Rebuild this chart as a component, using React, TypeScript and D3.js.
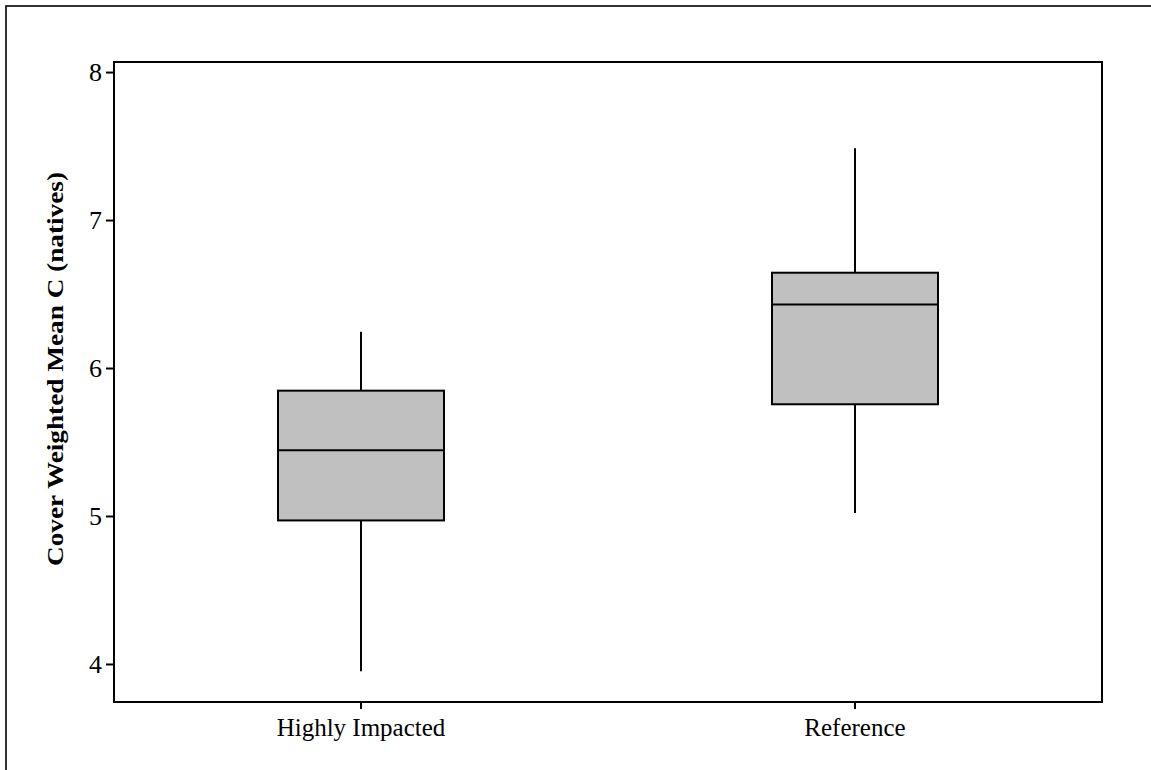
import React, { useEffect, useRef } from 'react';
import * as d3 from 'd3';

// groups on the x axis
const categories = ['Highly Impacted', 'Reference'];
// box plot summaries
const whiskerLow = [3.95, 5.02];
const quartile1 = [4.97, 5.755];
const medians = [5.445, 6.43];
const quartile3 = [5.847, 6.644];
const whiskerHigh = [6.245, 7.485];
const yTicks = [4, 5, 6, 7, 8];

const width = 1151;
const height = 770;
const margins = { top: 62, right: 49, bottom: 68, left: 114 };
const yAxisTitle = 'Cover Weighted Mean C (natives)';

const font = '"Liberation Serif", "Times New Roman", serif';

function BoxPlot() {
  const svgRef = useRef<SVGSVGElement | null>(null);

  useEffect(() => {
    const svg = d3.select(svgRef.current);
    svg.selectAll('*').remove();

    const plotW = width - margins.left - margins.right;
    const plotH = height - margins.top - margins.bottom;

    const x = d3.scaleBand<string>().domain(categories).range([0, plotW]);
    const y = d3.scaleLinear().domain([3.743, 8.068]).range([plotH, 0]);

    // outer frame of the figure
    svg.append('rect')
      .attr('x', 6).attr('y', 6)
      .attr('width', 1200).attr('height', 800)
      .attr('fill', 'none')
      .attr('stroke', '#000')
      .attr('stroke-width', 1.6);

    const g = svg.append('g').attr('transform', `translate(${margins.left},${margins.top})`);

    // y axis
    const yAxis = g.append('g')
      .call(d3.axisLeft(y).tickValues(yTicks).tickSize(8).tickPadding(4).tickFormat(d3.format('d')));
    yAxis.select('.domain').remove();
    yAxis.selectAll('line').attr('stroke', '#000').attr('stroke-width', 2);
    yAxis.selectAll('text')
      .attr('font-family', font)
      .attr('font-size', 26)
      .attr('fill', '#000');

    // x axis
    const xAxis = g.append('g')
      .attr('transform', `translate(0,${plotH})`)
      .call(d3.axisBottom(x).tickSize(7).tickPadding(9));
    xAxis.select('.domain').remove();
    xAxis.selectAll('line').attr('stroke', '#000').attr('stroke-width', 2);
    xAxis.selectAll('text')
      .attr('font-family', font)
      .attr('font-size', 25)
      .attr('fill', '#000');

    // boxes
    const boxW = x.bandwidth() * 0.336;
    const rows = categories.map((c, i) => ({
      c,
      lo: whiskerLow[i],
      q1: quartile1[i],
      med: medians[i],
      q3: quartile3[i],
      hi: whiskerHigh[i],
    }));

    const boxes = g.selectAll('g.box')
      .data(rows)
      .enter()
      .append('g')
      .classed('box', true)
      .attr('transform', d => `translate(${(x(d.c) as number) + x.bandwidth() / 2},0)`);

    boxes.append('line')
      .attr('x1', 0).attr('x2', 0)
      .attr('y1', d => y(d.hi)).attr('y2', d => y(d.q3))
      .attr('stroke', '#000').attr('stroke-width', 2);
    boxes.append('line')
      .attr('x1', 0).attr('x2', 0)
      .attr('y1', d => y(d.q1)).attr('y2', d => y(d.lo))
      .attr('stroke', '#000').attr('stroke-width', 2);
    boxes.append('rect')
      .attr('x', -boxW / 2)
      .attr('width', boxW)
      .attr('y', d => y(d.q3))
      .attr('height', d => y(d.q1) - y(d.q3))
      .attr('fill', '#c0c0c0')
      .attr('stroke', '#000')
      .attr('stroke-width', 2);
    boxes.append('line')
      .attr('x1', -boxW / 2).attr('x2', boxW / 2)
      .attr('y1', d => y(d.med)).attr('y2', d => y(d.med))
      .attr('stroke', '#000').attr('stroke-width', 2);

    // plot frame
    g.append('rect')
      .attr('width', plotW)
      .attr('height', plotH)
      .attr('fill', 'none')
      .attr('stroke', '#000')
      .attr('stroke-width', 2);

    // y axis title
    svg.append('text')
      .attr('transform', `translate(63,${(172 + 566) / 2}) rotate(-90)`)
      .attr('text-anchor', 'middle')
      .attr('font-family', font)
      .attr('font-size', 24)
      .attr('font-weight', 'bold')
      .attr('textLength', 394)
      .attr('lengthAdjust', 'spacingAndGlyphs')
      .attr('fill', '#000')
      .text(yAxisTitle);
  }, []);

  return (
    <svg
      ref={svgRef}
      width={width}
      height={height}
      style={{ position: 'absolute', left: 0, top: 0, background: '#fff' }}
    />
  );
}

export default function App() {
  return <BoxPlot />;
}
